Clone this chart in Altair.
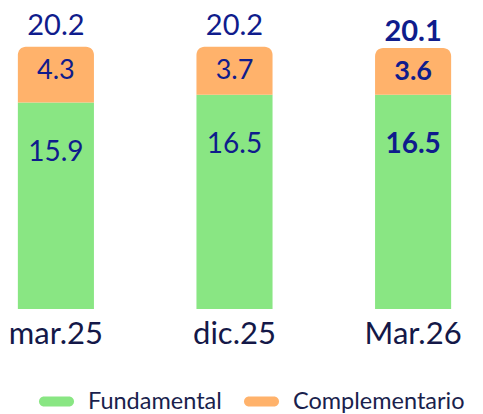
import altair as alt
import pandas as pd

periods = ["mar.25", "dic.25", "Mar.26"]
fundamental = [15.9, 16.5, 16.5]
complementario = [4.3, 3.7, 3.6]
totals = [20.2, 20.2, 20.1]
series_names = ["Fundamental", "Complementario"]
series_colors = ["#89E683", "#FFB26B"]
highlight = "Mar.26"

rows = []
for p, f, c, t in zip(periods, fundamental, complementario, totals):
    rows.append({"period": p, "series": "Fundamental", "start": 0.0, "end": f,
                 "value": f, "total": t})
    rows.append({"period": p, "series": "Complementario", "start": f, "end": f + c,
                 "value": c, "total": t})
df = pd.DataFrame(rows)
df["label"] = df["value"].map(lambda v: f"{v:.1f}")
df["total_label"] = df["total"].map(lambda v: f"{v:.1f}")

NAVY = "#0F1C8C"
FONT = "Lato"

x_enc = alt.X("period:N", sort=periods, title=None,
              scale=alt.Scale(paddingInner=0.574, paddingOuter=0.1),
              axis=alt.Axis(labelFontSize=31, labelColor="#141848", labelFont=FONT,
                            labelPadding=10, domain=False, ticks=False, labelAngle=0))
y_scale = alt.Scale(domain=[0, 23.8], nice=False)

color = alt.Color("series:N", scale=alt.Scale(domain=series_names, range=series_colors),
                  legend=alt.Legend(title=None, orient="none", legendX=44, legendY=389,
                                    direction="horizontal", labelFontSize=23.5,
                                    labelColor="#1A1F4D", labelFont=FONT, labelLimit=0,
                                    symbolType="M -1 -0.4 H 1 A 0.4 0.4 0 0 1 1 0.4 H -1 A 0.4 0.4 0 0 1 -1 -0.4 Z",
                                    symbolSize=625, symbolStrokeWidth=0, labelOffset=19,
                                    columnPadding=22, padding=0))

base = alt.Chart(df)

green = base.transform_filter(alt.datum.series == "Fundamental").mark_bar().encode(
    x=x_enc,
    y=alt.Y("end:Q", scale=y_scale, axis=None),
    y2="start:Q",
    color=color,
)
orange = base.transform_filter(alt.datum.series == "Complementario").mark_bar(
    cornerRadiusTopLeft=8, cornerRadiusTopRight=8).encode(
    x=x_enc,
    y=alt.Y("end:Q", scale=y_scale, axis=None),
    y2="start:Q",
    color=color,
)

layers = [green, orange]
for weight, test, tdy in [("normal", alt.datum.period != highlight, -12),
                          ("bold", alt.datum.period == highlight, -7)]:
    sub = base.transform_filter(test)
    layers.append(sub.transform_filter(alt.datum.series == "Fundamental").mark_text(
        font=FONT, fontSize=29, color=NAVY, baseline="alphabetic", dy=tdy,
        fontWeight=weight).encode(
        x=x_enc, y=alt.Y("total:Q", scale=y_scale, axis=None), text="total_label:N"))
    layers.append(sub.transform_filter(alt.datum.series == "Complementario").mark_text(
        font=FONT, fontSize=27, color=NAVY, baseline="middle", dy=24,
        fontWeight=weight).encode(
        x=x_enc, y=alt.Y("end:Q", scale=y_scale, axis=None), text="label:N"))
    layers.append(sub.transform_filter(alt.datum.series == "Fundamental").mark_text(
        font=FONT, fontSize=28, color=NAVY, baseline="middle", dy=50,
        fontWeight=weight).encode(
        x=x_enc, y=alt.Y("end:Q", scale=y_scale, axis=None), text="label:N"))

chart = alt.layer(*layers).properties(
    width=469, height=309, background="white",
    autosize=alt.AutoSizeParams(type="none"),
    padding={"left": 0, "top": 0, "right": 14, "bottom": 105},
).configure_view(stroke=None)

chart.save("out.html", embed_options={"renderer": "svg", "actions": False})
